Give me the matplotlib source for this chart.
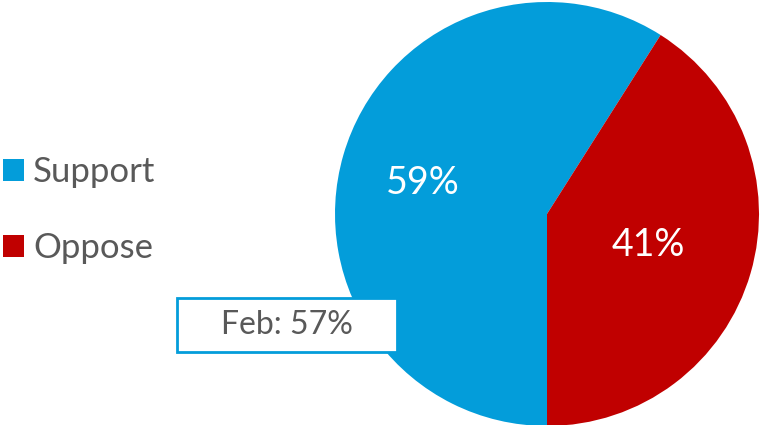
import matplotlib.pyplot as plt
from matplotlib.patches import Rectangle, Patch

plt.rcParams['font.family'] = ['Lato', 'DejaVu Sans']

labels = ['Support', 'Oppose']
values = [59, 41]
colors = ['#039DDA', '#C00000']
note = 'Feb: 57%'

W, H = 760, 425
fig = plt.figure(figsize=(7.6, 4.25), dpi=100)

# pie axes placed in pixel terms: center (547,214), radius 212
cx, cy, r = 547, 214, 212
ax = fig.add_axes([(cx - r) / W, (H - cy - r) / H, 2 * r / W, 2 * r / H])
wedges, _ = ax.pie(values, colors=colors, startangle=270, counterclock=False,
                   radius=1, wedgeprops=dict(linewidth=0))
ax.set_xlim(-1, 1)
ax.set_ylim(-1, 1)
ax.set_aspect('equal')
ax.axis('off')

# percentage labels
label_pos = [(-0.585, 0.146), (0.476, -0.146)]
for v, (x, y) in zip(values, label_pos):
    ax.text(x, y, f'{v}%', color='white', fontsize=27, ha='center', va='center')

# legend
handles = [Patch(facecolor=c, edgecolor='none') for c in colors]
leg = fig.legend(handles, labels, loc='center left', bbox_to_anchor=(0.0, 1 - 210 / H),
                 frameon=False, fontsize=25, labelcolor='#595959',
                 handlelength=0.6, handleheight=0.6, handletextpad=0.25,
                 labelspacing=1.26, borderaxespad=0, borderpad=0.1)

# Feb note box
bx0, by0, bx1, by1 = 177, 298, 397, 352
fig.patches.append(Rectangle((bx0 / W, 1 - by1 / H), (bx1 - bx0) / W, (by1 - by0) / H,
                             transform=fig.transFigure, facecolor='white',
                             edgecolor='#039DDA', linewidth=2, zorder=5))
fig.text((bx0 + bx1) / 2 / W, 1 - (by0 + by1) / 2 / H, note, color='#595959',
         fontsize=23, ha='center', va='center', zorder=6)

fig.savefig('out.png', dpi=100)
